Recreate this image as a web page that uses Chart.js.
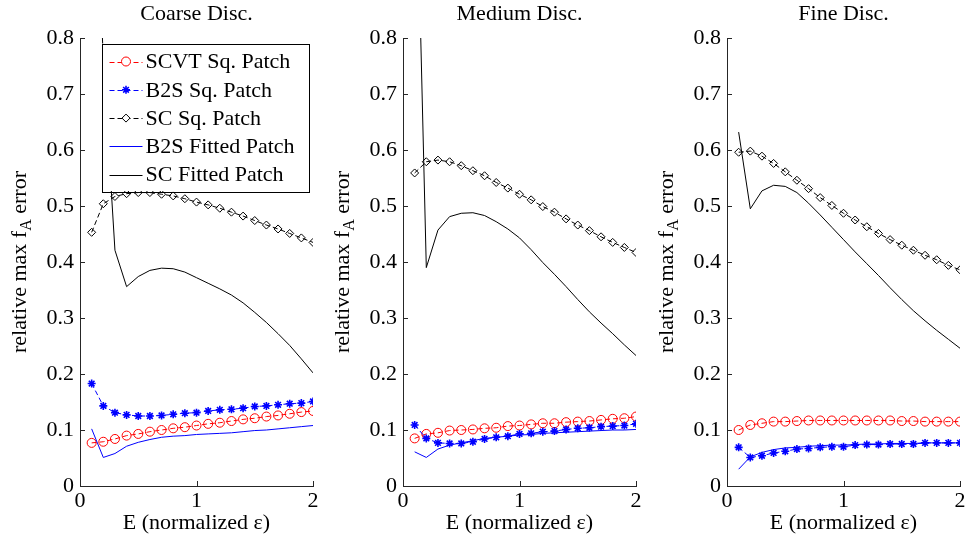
<!DOCTYPE html>
<html>
<head>
<meta charset="utf-8">
<script src="https://cdn.jsdelivr.net/npm/chart.js@4.4.1/dist/chart.umd.min.js"></script>
<style>
  html, body { margin: 0; padding: 0; background: #fff; }
  #wrap { position: relative; width: 970px; height: 541px; overflow: hidden; }
  canvas { position: absolute; top: 0; }
</style>
</head>
<body>
<div id="wrap">
  <canvas id="c0" width="393" height="541" style="left:0px"></canvas>
  <canvas id="c1" width="393" height="541" style="left:323px"></canvas>
  <canvas id="c2" width="393" height="541" style="left:647px"></canvas>
</div>
<script>
// E values (normalized epsilon) shared by every series
const eVals = [0.1, 0.2, 0.3, 0.4, 0.5, 0.6, 0.7, 0.8, 0.9, 1.0, 1.1, 1.2, 1.3, 1.4, 1.5, 1.6, 1.7, 1.8, 1.9, 2.0];
const panelTitles = ['Coarse Disc.', 'Medium Disc.', 'Fine Disc.'];
const seriesNames = ['SCVT Sq. Patch', 'B2S Sq. Patch', 'SC Sq. Patch', 'B2S Fitted Patch', 'SC Fitted Patch'];
const xTitle = 'E (normalized \u03b5)';
const yTitleParts = ['relative max f', 'A', ' error'];
const xTicks = [0, 1, 2];
const yTicks = [0, 0.1, 0.2, 0.3, 0.4, 0.5, 0.6, 0.7, 0.8];

// coarse
const scvtCoarse = [0.077, 0.079, 0.084, 0.090, 0.093, 0.097, 0.100, 0.103, 0.105, 0.108, 0.111, 0.113, 0.116, 0.119, 0.121, 0.124, 0.126, 0.129, 0.132, 0.134];
const b2sCoarse = [0.183, 0.143, 0.131, 0.127, 0.125, 0.125, 0.126, 0.128, 0.130, 0.131, 0.134, 0.136, 0.137, 0.139, 0.142, 0.143, 0.145, 0.147, 0.148, 0.151];
const scCoarse = [0.453, 0.504, 0.517, 0.522, 0.524, 0.524, 0.521, 0.518, 0.513, 0.507, 0.502, 0.496, 0.489, 0.482, 0.474, 0.466, 0.459, 0.451, 0.443, 0.435];
const b2sFitCoarse = [0.102, 0.051, 0.058, 0.071, 0.078, 0.083, 0.087, 0.089, 0.090, 0.092, 0.093, 0.094, 0.095, 0.097, 0.099, 0.100, 0.102, 0.104, 0.106, 0.108];
const scFitCoarse = [1.3, 0.76, 0.421, 0.356, 0.374, 0.385, 0.389, 0.388, 0.382, 0.372, 0.362, 0.352, 0.341, 0.327, 0.310, 0.292, 0.272, 0.251, 0.227, 0.202];

// medium
const scvtMed = [0.085, 0.093, 0.095, 0.099, 0.100, 0.101, 0.103, 0.104, 0.107, 0.108, 0.110, 0.112, 0.112, 0.114, 0.115, 0.116, 0.118, 0.120, 0.121, 0.124];
const b2sMed = [0.109, 0.085, 0.077, 0.076, 0.076, 0.079, 0.084, 0.087, 0.089, 0.093, 0.094, 0.097, 0.098, 0.101, 0.103, 0.104, 0.106, 0.107, 0.108, 0.111];
const scMed = [0.559, 0.579, 0.582, 0.579, 0.572, 0.563, 0.554, 0.542, 0.532, 0.521, 0.511, 0.499, 0.489, 0.477, 0.466, 0.456, 0.445, 0.435, 0.426, 0.417];
const b2sFitMed = [0.061, 0.051, 0.066, 0.073, 0.077, 0.081, 0.085, 0.087, 0.089, 0.091, 0.092, 0.094, 0.095, 0.096, 0.097, 0.098, 0.099, 0.100, 0.100, 0.101];
const scFitMed = [1.25, 0.390, 0.457, 0.481, 0.487, 0.488, 0.483, 0.472, 0.459, 0.443, 0.422, 0.399, 0.378, 0.356, 0.333, 0.311, 0.291, 0.272, 0.252, 0.233];

// fine
const scvtFine = [0.100, 0.109, 0.112, 0.115, 0.115, 0.116, 0.117, 0.117, 0.117, 0.117, 0.117, 0.117, 0.117, 0.117, 0.116, 0.116, 0.115, 0.115, 0.115, 0.115];
const b2sFine = [0.069, 0.051, 0.054, 0.059, 0.062, 0.066, 0.067, 0.069, 0.070, 0.070, 0.073, 0.074, 0.074, 0.075, 0.075, 0.075, 0.077, 0.077, 0.077, 0.077];
const scFine = [0.596, 0.598, 0.589, 0.576, 0.561, 0.546, 0.531, 0.515, 0.501, 0.487, 0.475, 0.463, 0.451, 0.440, 0.430, 0.421, 0.412, 0.404, 0.394, 0.386];
const b2sFitFine = [0.030, 0.052, 0.060, 0.065, 0.068, 0.069, 0.071, 0.072, 0.073, 0.073, 0.074, 0.075, 0.075, 0.076, 0.076, 0.076, 0.077, 0.077, 0.077, 0.077];
const scFitFine = [0.632, 0.495, 0.527, 0.537, 0.535, 0.524, 0.505, 0.484, 0.462, 0.440, 0.418, 0.397, 0.376, 0.354, 0.333, 0.313, 0.295, 0.278, 0.262, 0.246];

const panels = [
  [scvtCoarse, b2sCoarse, scCoarse, b2sFitCoarse, scFitCoarse],
  [scvtMed, b2sMed, scMed, b2sFitMed, scFitMed],
  [scvtFine, b2sFine, scFine, b2sFitFine, scFitFine]
];

const FONT = "'Liberation Serif', 'Times New Roman', serif";
const AXIS = '#262626';
Chart.defaults.font.family = FONT;
Chart.defaults.font.size = 22;
Chart.defaults.color = '#000';

const pts = vals => eVals.map((e, i) => ({ x: e, y: vals[i] }));

function sqSet(label, color, style, r, bw, vals, n) {
  return { label, data: pts(vals), borderColor: color, borderWidth: 1, borderDash: [5, 3],
    pointStyle: style, pointRadius: r, pointBorderColor: color, pointBorderWidth: bw,
    pointBackgroundColor: 'rgba(0,0,0,0)', tension: 0, order: n };
}
function fitSet(label, color, vals, n) {
  return { label, data: pts(vals), borderColor: color, borderWidth: 1, pointRadius: 0,
    tension: 0, clip: 0, order: n };
}

// MATLAB style inward tick marks
const innerTicks = {
  id: 'innerTicks',
  afterDraw(chart) {
    const { ctx, chartArea: a, scales: { x, y } } = chart;
    ctx.save(); ctx.strokeStyle = AXIS; ctx.lineWidth = 1; ctx.beginPath();
    y.ticks.forEach(t => { const p = Math.round(y.getPixelForValue(t.value)) + 0.5; ctx.moveTo(a.left, p); ctx.lineTo(a.left + 5, p); });
    x.ticks.forEach(t => { const p = Math.round(x.getPixelForValue(t.value)) + 0.5; ctx.moveTo(p, a.bottom); ctx.lineTo(p, a.bottom - 5); });
    ctx.stroke(); ctx.restore();
  }
};

// title centred over the axes, like MATLAB
const axesTitle = {
  id: 'axesTitle',
  afterDraw(chart, args, opts) {
    const { ctx, chartArea: a } = chart;
    ctx.save();
    ctx.font = '22px ' + FONT; ctx.fillStyle = '#000';
    ctx.textAlign = 'center'; ctx.textBaseline = 'middle';
    ctx.fillText(opts.text, (a.left + a.right) / 2, a.top - 24);
    ctx.restore();
  }
};

// y title with subscript A
const yLabel = {
  id: 'yLabel',
  afterDraw(chart) {
    const { ctx, chartArea: a } = chart;
    const sizes = [22, 16, 22], drops = [0, 5, 0];
    ctx.save();
    ctx.translate(a.left - 54, (a.top + a.bottom) / 2);
    ctx.rotate(-Math.PI / 2);
    ctx.fillStyle = '#000'; ctx.textBaseline = 'alphabetic'; ctx.textAlign = 'left';
    let w = 0;
    yTitleParts.forEach((s, i) => { ctx.font = sizes[i] + 'px ' + FONT; w += ctx.measureText(s).width; });
    let cx = -w / 2;
    yTitleParts.forEach((s, i) => { ctx.font = sizes[i] + 'px ' + FONT; ctx.fillText(s, cx, drops[i]); cx += ctx.measureText(s).width; });
    ctx.restore();
  }
};

// boxed legend inside the first axes
const boxLegend = {
  id: 'boxLegend',
  afterDraw(chart) {
    const { ctx, chartArea: a } = chart;
    const sets = chart.data.datasets;
    ctx.save();
    ctx.font = '22px ' + FONT;
    const tw = Math.max(...sets.map(d => ctx.measureText(d.label).width));
    const x0 = a.left + 21.5, y0 = a.top + 5.5, rowH = 28.3;
    const w = 44 + tw + 14, h = rowH * sets.length + 6;
    ctx.fillStyle = '#fff'; ctx.fillRect(x0, y0, w, h);
    ctx.strokeStyle = '#000'; ctx.lineWidth = 1; ctx.strokeRect(Math.round(x0) + 0.5, Math.round(y0) + 0.5, Math.round(w), Math.round(h));
    sets.forEach((d, i) => {
      const cy = y0 + 18 + i * rowH;
      ctx.strokeStyle = d.borderColor; ctx.lineWidth = 1;
      ctx.setLineDash(d.borderDash || []);
      ctx.beginPath(); ctx.moveTo(x0 + 8, Math.round(cy) + 0.5); ctx.lineTo(x0 + 41, Math.round(cy) + 0.5); ctx.stroke();
      ctx.setLineDash([]);
      if (d.pointRadius > 0) {
        ctx.fillStyle = '#fff'; ctx.lineWidth = d.pointBorderWidth;
        Chart.helpers.drawPoint(ctx, { pointStyle: d.pointStyle, radius: d.pointRadius, rotation: 0, borderWidth: d.pointBorderWidth }, x0 + 24.5, cy);
      }
      ctx.fillStyle = '#000'; ctx.textBaseline = 'middle'; ctx.textAlign = 'left';
      ctx.fillText(d.label, x0 + 44, cy + 1);
    });
    ctx.restore();
  }
};

panels.forEach((p, k) => {
  const datasets = [
    sqSet(seriesNames[0], '#ff0000', 'circle', 4.5, 1, p[0], 5),
    sqSet(seriesNames[1], '#0000ff', 'star', 4, 1.6, p[1], 4),
    sqSet(seriesNames[2], '#000000', 'rectRot', 4, 1, p[2], 3),
    fitSet(seriesNames[3], '#0000ff', p[3], 2),
    fitSet(seriesNames[4], '#000000', p[4], 1)
  ];
  new Chart(document.getElementById('c' + k), {
    type: 'line',
    data: { datasets },
    options: {
      responsive: false, animation: false, devicePixelRatio: 1, events: [],
      layout: { padding: { left: 0, right: 80, top: 38, bottom: 0 } },
      plugins: {
        legend: { display: false }, tooltip: { enabled: false }, title: { display: false },
        axesTitle: { text: panelTitles[k] }
      },
      scales: {
        x: { type: 'linear', min: 0, max: 2,
          afterBuildTicks: s => { s.ticks = xTicks.map(v => ({ value: v })); },
          ticks: { padding: 2, maxRotation: 0, callback: v => String(v) },
          grid: { display: false, drawTicks: false },
          border: { display: true, color: AXIS, width: 1 },
          title: { display: true, text: xTitle, font: { size: 22 }, padding: { top: 0, bottom: 5 } },
          afterFit: s => { s.height = 55; } },
        y: { type: 'linear', min: 0, max: 0.8,
          afterBuildTicks: s => { s.ticks = yTicks.map(v => ({ value: v })); },
          ticks: { padding: 6, callback: v => (v === 0 ? '0' : v.toFixed(1)) },
          grid: { display: false, drawTicks: false },
          border: { display: true, color: AXIS, width: 1 },
          afterFit: s => { s.width = 80; } }
      }
    },
    plugins: k === 0 ? [innerTicks, axesTitle, yLabel, boxLegend] : [innerTicks, axesTitle, yLabel]
  });
});
</script>
</body>
</html>
